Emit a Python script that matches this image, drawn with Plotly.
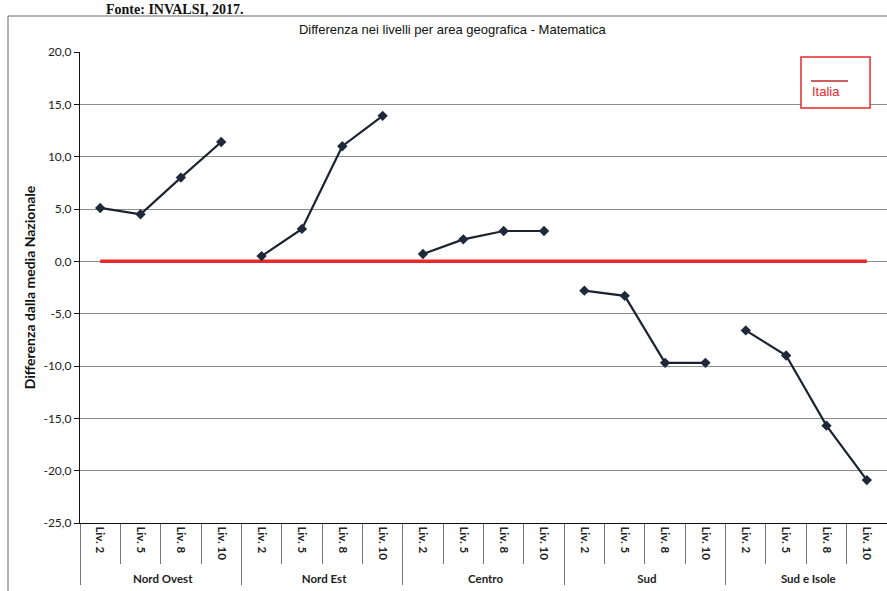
import plotly.graph_objects as go

# Regions and school levels (two-level category axis)
regions = ["Nord Ovest", "Nord Est", "Centro", "Sud", "Sud e Isole"]
levels = ["Liv. 2", "Liv. 5", "Liv. 8", "Liv. 10"]

# Difference from the national mean, per region and level
nord_ovest = [5.1, 4.5, 8.0, 11.4]
nord_est = [0.5, 3.1, 11.0, 13.9]
centro = [0.7, 2.1, 2.9, 2.9]
sud = [-2.8, -3.3, -9.7, -9.7]
sud_isole = [-6.6, -9.0, -15.7, -20.9]
italia = [0.0] * 20

y_ticks = [20, 15, 10, 5, 0, -5, -10, -15, -20, -25]
y_ticktext = [f"{v:.1f}".replace(".", ",") for v in y_ticks]

series = [nord_ovest, nord_est, centro, sud, sud_isole]

x_outer = [r for r in regions for _ in levels]
x_inner = [lv for _ in regions for lv in levels]

fig = go.Figure()

# National reference line
fig.add_trace(go.Scatter(
    x=[x_outer, x_inner], y=italia, mode="lines",
    line=dict(color="#e8282b", width=3.5), name="Italia", showlegend=False,
    hoverinfo="skip",
))

# One segment per region
for reg, vals in zip(regions, series):
    fig.add_trace(go.Scatter(
        x=[[reg] * len(levels), levels], y=vals, mode="lines+markers",
        line=dict(color="#1c2330", width=2.2),
        marker=dict(symbol="diamond", size=8, color="#1e2a3a"),
        name=reg, showlegend=False,
    ))

fig.update_layout(
    width=887, height=591,
    margin=dict(l=80, r=0, t=52, b=68),
    paper_bgcolor="white", plot_bgcolor="white",
    font=dict(family="Liberation Sans, Arial, sans-serif", color="#222"),
    title=dict(
        text="Differenza nei livelli per area geografica - Matematica",
        x=0.51, xanchor="center", y=0.951, yanchor="middle",
        font=dict(size=13, color="#111"),
    ),
)

fig.update_yaxes(
    range=[-25, 20], tickvals=y_ticks, ticktext=y_ticktext,
    tickfont=dict(family="Lato, Open Sans, sans-serif", size=12, color="#222"),
    ticks="outside", ticklen=5, tickcolor="#111",
    showline=True, linecolor="#111", linewidth=1.2,
    showgrid=True, gridcolor="#8c8c8c", gridwidth=1,
    zeroline=False,
    title=dict(text="<b>Differenza dalla media Nazionale</b>",
               font=dict(family="Lato, Open Sans, sans-serif", size=14, color="#111"),
               standoff=4),
)

fig.update_xaxes(
    type="multicategory",
    range=[-0.5, 19.5],
    tickangle=90,
    tickfont=dict(family="Lato, Open Sans, sans-serif", size=11.5, color="#222", weight="bold"),
    ticks="outside", ticklen=40, tickcolor="#777", tickson="boundaries",
    showdividers=True, dividercolor="#777", dividerwidth=1,
    showline=True, linecolor="#111", linewidth=1.2,
    showgrid=False, zeroline=False,
)

# Outer chart frame
fig.add_shape(type="rect", xref="paper", yref="paper",
              x0=-0.0892, x1=1.02, y0=-0.3, y1=1.0764,
              line=dict(color="#666", width=1), layer="below")

# Legend box for the national line
fig.add_shape(type="rect", xref="paper", yref="paper",
              x0=0.8934, x1=0.979, y0=0.8811, y1=0.9894,
              line=dict(color="#e8282b", width=1.5), fillcolor="white", layer="above")
fig.add_shape(type="line", xref="paper", yref="paper",
              x0=0.9058, x1=0.9517, y0=0.9384, y1=0.9384,
              line=dict(color="#c0282b", width=1.5), layer="above")
fig.add_annotation(text="Italia", xref="paper", yref="paper",
                   x=0.9045, y=0.917, xanchor="left", yanchor="middle",
                   showarrow=False,
                   font=dict(family="Liberation Sans, Arial, sans-serif", size=13, color="#e8282b"))

# Source note above the frame
fig.add_annotation(text="<b>Fonte: INVALSI, 2017.</b>", xref="paper", yref="paper",
                   x=(104 - 80) / 807, y=(523 - 19) / 471, xanchor="left", yanchor="bottom",
                   showarrow=False,
                   font=dict(family="Liberation Serif, Times New Roman, serif", size=14, color="#111"))

fig.write_html("out.html")
